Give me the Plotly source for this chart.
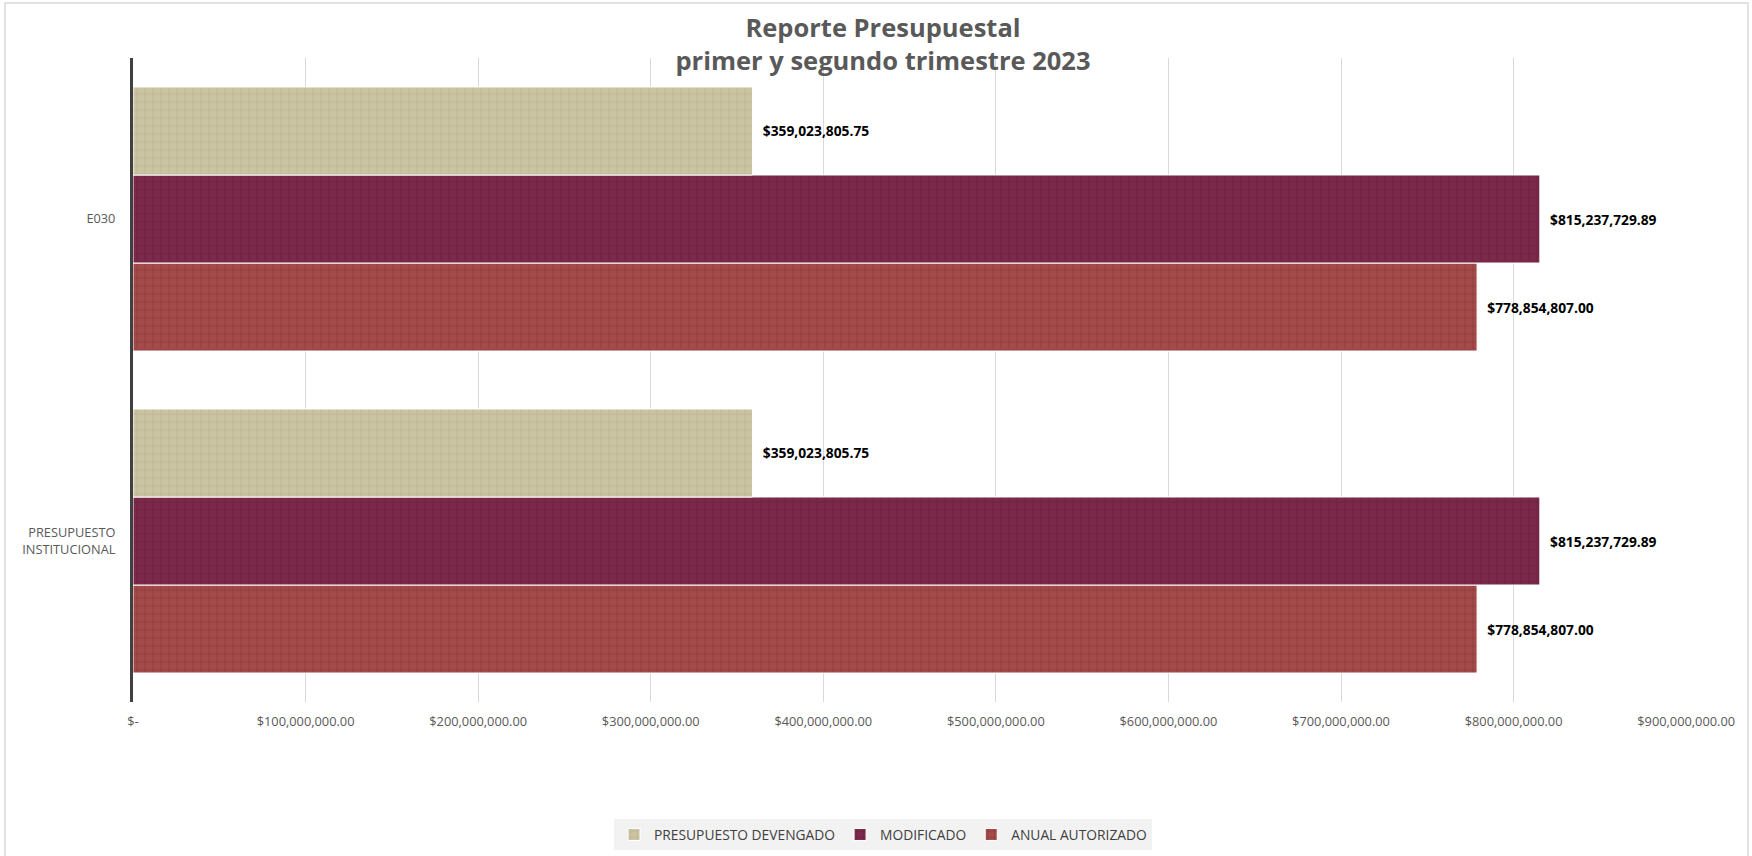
import plotly.graph_objects as go

categories = ["PRESUPUESTO<br>INSTITUCIONAL", "E030"]
devengado = [359023805.75, 359023805.75]
modificado = [815237729.89, 815237729.89]
anual_autorizado = [778854807.00, 778854807.00]

tick_vals = [0, 100e6, 200e6, 300e6, 400e6, 500e6, 600e6, 700e6, 800e6, 900e6]
tick_text = ["$-", "$100,000,000.00", "$200,000,000.00", "$300,000,000.00", "$400,000,000.00",
             "$500,000,000.00", "$600,000,000.00", "$700,000,000.00", "$800,000,000.00",
             "$900,000,000.00"]

W, H = 1752, 856
L, R, T, B = 133, 65, 58, 154
pw, ph = W - L - R, H - T - B

series = [
    ("ANUAL AUTORIZADO", anual_autorizado, "#A34A4A", "#872C2C"),
    ("MODIFICADO", modificado, "#7C2A4B", "#621633"),
    ("PRESUPUESTO DEVENGADO", devengado, "#CBC4A3", "#B3AB88"),
]

fig = go.Figure()
for name, vals, col, fg in series:
    fig.add_trace(go.Bar(
        y=categories, x=vals, orientation="h", name=name,
        marker=dict(color=col, line=dict(color="white", width=1),
                    pattern=dict(shape="+", size=8, solidity=0.22, fgcolor=fg, bgcolor=col)),
        texttemplate="  %{x:$,.2f}", textposition="outside",
        textfont=dict(family="Open Sans", size=13.8, color="#000000", weight="bold"),
        cliponaxis=False,
    ))

fig.update_layout(
    width=W, height=H,
    margin=dict(l=L, r=R, t=T, b=B, autoexpand=False),
    paper_bgcolor="white", plot_bgcolor="white",
    barmode="group", bargap=0.18, bargroupgap=0,
    title=dict(text="<b>Reporte Presupuestal<br>primer y segundo trimestre 2023</b>",
               x=883 / W, xanchor="center", y=1 - 37 / H, yanchor="top",
               font=dict(family="Open Sans", size=25.5, color="#595959")),
    xaxis=dict(range=[0, 900.5e6], tickvals=tick_vals, ticktext=tick_text,
               showgrid=True, gridcolor="#D9D9D9", gridwidth=1, zeroline=False,
               tickfont=dict(family="Open Sans", size=12.8, color="#595959"),
               ticks="", ticklabelstandoff=10, showline=False),
    yaxis=dict(showline=True, linecolor="#404040", linewidth=3,
               tickfont=dict(family="Open Sans", size=12.8, color="#595959"),
               ticks="", ticklabelstandoff=12, showgrid=False),
    legend=dict(orientation="h", traceorder="reversed", x=(883 - L) / pw, xanchor="center",
                y=(H - B - 819) / ph, yanchor="top", bgcolor="#F2F2F2",
                font=dict(family="Open Sans", size=13.8, color="#404040"),
                itemwidth=30),
    showlegend=True,
)

fig.add_shape(type="rect", xref="paper", yref="paper",
              x0=(5 - L) / pw, x1=(1748 - L) / pw, y0=(H - B - 870) / ph, y1=(H - B - 3) / ph,
              line=dict(color="#D9D9D9", width=1.5), fillcolor="rgba(0,0,0,0)", layer="below")

fig.write_html("out.html", config={"displayModeBar": False},
               post_script="document.body.style.margin='0';")
